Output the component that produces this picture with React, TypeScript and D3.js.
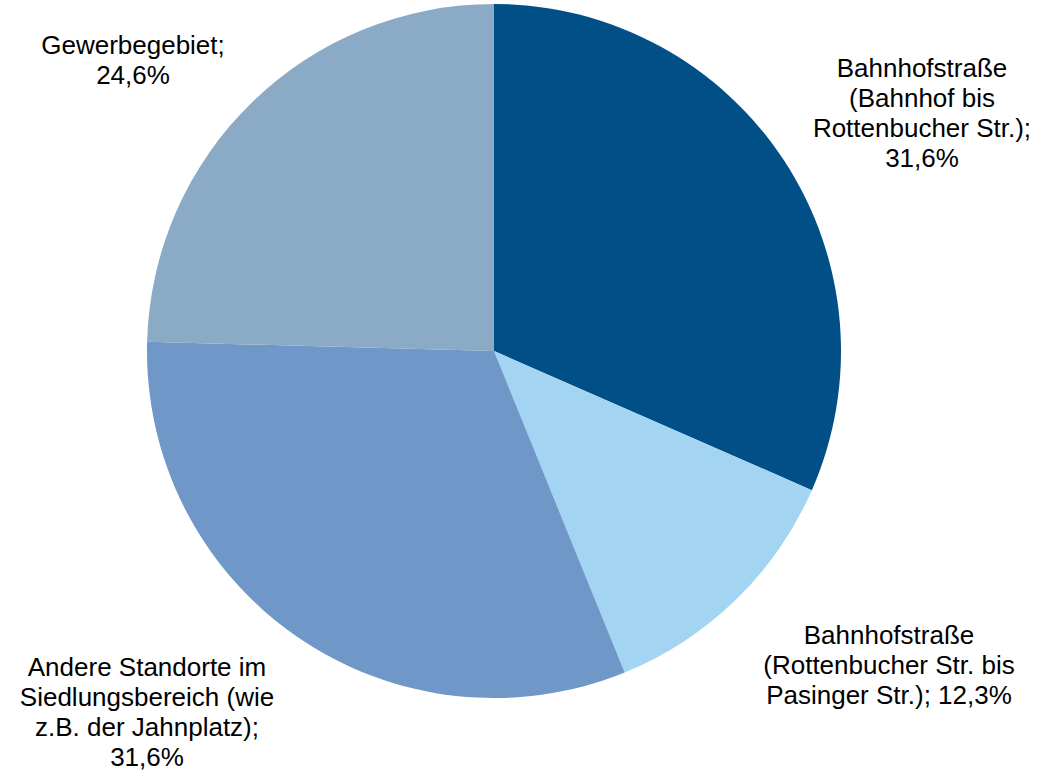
import React from "react";
import { pie, arc, PieArcDatum } from "d3";

const categories = [
  "Bahnhofstraße (Bahnhof bis Rottenbucher Str.)",
  "Bahnhofstraße (Rottenbucher Str. bis Pasinger Str.)",
  "Andere Standorte im Siedlungsbereich (wie z.B. der Jahnplatz)",
  "Gewerbegebiet",
];
const shares = [31.6, 12.3, 31.6, 24.6];
const labelLines = [
  ["Bahnhofstraße", "(Bahnhof bis", "Rottenbucher Str.);", "31,6%"],
  ["Bahnhofstraße", "(Rottenbucher Str. bis", "Pasinger Str.); 12,3%"],
  ["Andere Standorte im", "Siedlungsbereich (wie", "z.B. der Jahnplatz);", "31,6%"],
  ["Gewerbegebiet;", "24,6%"],
];

const colors = ["#004f87", "#a3d4f2", "#6f97c8", "#8aaac5"];
// label block centres, chosen by hand like Excel's "best fit"
const labelPos: [number, number][] = [
  [922, 113],
  [889, 665],
  [147, 712],
  [133, 60],
];

const width = 1043;
const height = 772;
const cx = 494;
const cy = 351;
const radius = 347;
const fontSize = 26;
const lineGap = 30;

type Slice = { name: string; value: number; i: number };

const App: React.FC = () => {
  const data: Slice[] = categories.map((name, i) => ({ name, value: shares[i], i }));
  const arcs = pie<Slice>()
    .sort(null)
    .value((d) => d.value)(data);
  const path = arc<PieArcDatum<Slice>>().innerRadius(0).outerRadius(radius);

  return (
    <svg
      width={width}
      height={height}
      style={{ position: "absolute", left: 0, top: 0, background: "#fff" }}
      fontFamily="'Liberation Sans', Arial, sans-serif"
    >
      <g transform={`translate(${cx},${cy})`}>
        {arcs.map((a) => (
          <path key={a.data.name} d={path(a) || ""} fill={colors[a.data.i]} />
        ))}
      </g>
      {labelLines.map((lines, i) => {
        const [lx, ly] = labelPos[i];
        const top = ly - ((lines.length - 1) * lineGap) / 2;
        return (
          <text key={i} textAnchor="middle" fontSize={fontSize} fill="#000">
            {lines.map((t, j) => (
              <tspan key={j} x={lx} y={top + j * lineGap} dy="0.35em">
                {t}
              </tspan>
            ))}
          </text>
        );
      })}
    </svg>
  );
};

export default App;
